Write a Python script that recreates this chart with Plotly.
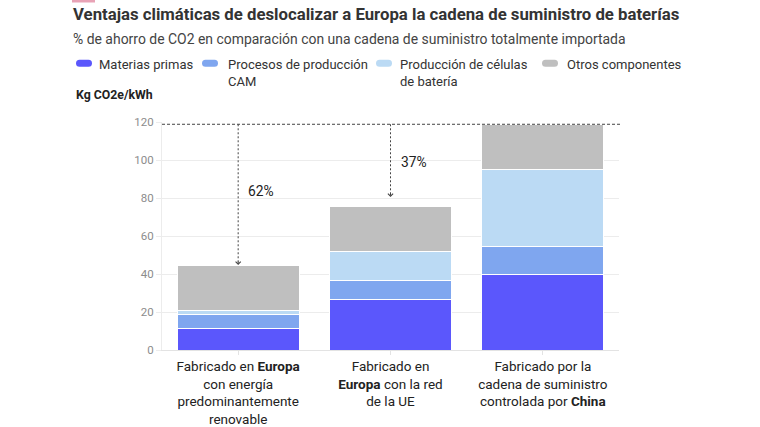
import plotly.graph_objects as go

# ---------------- data ----------------
categories = ["Europa renovable", "Europa red UE", "China"]
tick_labels = [
    "Fabricado en <b>Europa</b><br>con energía<br>predominantemente<br>renovable",
    "Fabricado en<br><b>Europa</b> con la red<br>de la UE",
    "Fabricado por la<br>cadena de suministro<br>controlada por <b>China</b>",
]
series_names = [
    "Materias primas",
    "Procesos de producción<br>CAM",
    "Producción de células<br>de batería",
    "Otros componentes",
]
materias_primas = [11.3, 26.5, 39.6]
procesos_cam = [7.2, 10.0, 14.9]
celulas_bateria = [2.4, 15.2, 40.3]
otros_componentes = [23.8, 23.8, 24.0]
series_values = [materias_primas, procesos_cam, celulas_bateria, otros_componentes]
series_colors = ["#5b57fc", "#7fa6ef", "#bbdaf4", "#bfbfbf"]

savings_labels = ["62%", "37%"]
savings_label_y = [83.5, 99]
arrow_tips = [44.7, 80.5]
y_ticks = [0, 20, 40, 60, 80, 100, 120]

title_text = "<b>Ventajas climáticas de deslocalizar a Europa la cadena de suministro de baterías</b>"
subtitle_text = "% de ahorro de CO2 en comparación con una cadena de suministro totalmente importada"
unit_text = "<b>Kg CO2e/kWh</b>"

# ---------------- layout geometry ----------------
WIDTH, HEIGHT = 760, 427
ML, MR, MT, MB = 162, 141, 122, 77
PW = WIDTH - ML - MR
PH = HEIGHT - MT - MB


def px_x(p):
    return (p - ML) / PW


def px_y(p):
    return (HEIGHT - MB - p) / PH


FONT = "Roboto, 'Noto Sans', Arial, sans-serif"

fig = go.Figure()
for name, vals, col in zip(series_names, series_values, series_colors):
    fig.add_trace(go.Bar(
        x=categories, y=vals, name=name.replace("<br>", " "),
        marker=dict(color=col, line=dict(color="white", width=1)),
        showlegend=False,
    ))

totals = [sum(v) for v in zip(*series_values)]
reference_total = totals[-1]

shapes = []
annotations = []

# horizontal dashed reference line
shapes.append(dict(type="line", xref="paper", x0=0, x1=1.003, yref="y",
                   y0=reference_total, y1=reference_total,
                   line=dict(color="#444", width=1, dash="3px,2px")))

# vertical dashed arrows + labels
for i, (lab, ly, tip) in enumerate(zip(savings_labels, savings_label_y, arrow_tips)):
    shapes.append(dict(type="line", xref="x", yref="y", x0=i, x1=i,
                       y0=reference_total, y1=tip + 1.5,
                       line=dict(color="#444", width=1, dash="2px,2px")))
    annotations.append(dict(x=categories[i], y=tip, xref="x", yref="y",
                            text="", showarrow=True, ax=0, ay=-5,
                            arrowhead=4, arrowsize=1, arrowwidth=1,
                            arrowcolor="#444", standoff=0))
    annotations.append(dict(x=categories[i], y=ly, xref="x", yref="y",
                            text=lab, showarrow=False, xanchor="left",
                            yanchor="middle", xshift=8,
                            font=dict(family=FONT, size=13.8, color="#222")))

# small decorative mark top-left
shapes.append(dict(type="rect", xref="paper", yref="paper",
                   x0=px_x(72), x1=px_x(95), y0=px_y(2.5), y1=px_y(0),
                   fillcolor="#e8a3b6", line=dict(width=0)))

# title
annotations.append(dict(xref="paper", yref="paper", x=px_x(71), y=px_y(14),
                        xanchor="left", yanchor="middle", showarrow=False,
                        text=title_text,
                        font=dict(family=FONT, size=16.75, color="#333")))
# subtitle
annotations.append(dict(xref="paper", yref="paper", x=px_x(71), y=px_y(38.5),
                        xanchor="left", yanchor="middle", showarrow=False,
                        text=subtitle_text,
                        font=dict(family=FONT, size=13.95, color="#444")))
# unit label
annotations.append(dict(xref="paper", yref="paper", x=px_x(74), y=px_y(95),
                        xanchor="left", yanchor="middle", showarrow=False,
                        text=unit_text,
                        font=dict(family=FONT, size=12.3, color="#222")))

# manual legend
pill_x = [84, 210, 384, 550]
text_x = [97, 225.5, 397.5, 565]
pill_path = "M-4.5,-3.5 H4.5 Q8,-3.5 8,0 Q8,3.5 4.5,3.5 H-4.5 Q-8,3.5 -8,0 Q-8,-3.5 -4.5,-3.5 Z"
for name, col, pxx, txx in zip(series_names, series_colors, pill_x, text_x):
    shapes.append(dict(type="path", xref="paper", yref="paper",
                       xsizemode="pixel", ysizemode="pixel",
                       xanchor=px_x(pxx), yanchor=px_y(63.3),
                       path=pill_path, fillcolor=col, line=dict(width=0)))
    annotations.append(dict(xref="paper", yref="paper", x=px_x(txx), y=px_y(55),
                            xanchor="left", yanchor="top", align="left",
                            showarrow=False, text=name,
                            font=dict(family=FONT, size=13, color="#333")))

fig.update_layout(
    width=WIDTH, height=HEIGHT,
    margin=dict(l=ML, r=MR, t=MT, b=MB, pad=0, autoexpand=False),
    paper_bgcolor="white", plot_bgcolor="white",
    barmode="stack", bargap=0.2,
    font=dict(family=FONT, color="#222"),
    shapes=shapes, annotations=annotations,
    showlegend=False,
    xaxis=dict(
        type="category", categoryorder="array", categoryarray=categories,
        tickmode="array", tickvals=categories, ticktext=tick_labels,
        range=[-0.5, 2.5], showgrid=False, automargin=False,
        showline=True, linecolor="#e3e3e3", linewidth=1,
        ticks="outside", ticklen=4, tickcolor="#e3e3e3",
        tickfont=dict(family=FONT, size=13.5, color="#222"),
        fixedrange=True,
    ),
    yaxis=dict(
        range=[0, 120], tickmode="array", tickvals=y_ticks,
        showgrid=True, gridcolor="#ececec", gridwidth=1,
        zeroline=False, automargin=False,
        showline=True, linecolor="#ececec", linewidth=1,
        ticks="outside", ticklen=5, tickcolor="#ececec",
        tickfont=dict(family=FONT, size=11.5, color="#8c8c8c"),
        fixedrange=True,
    ),
)

fig.write_html("out.html")
